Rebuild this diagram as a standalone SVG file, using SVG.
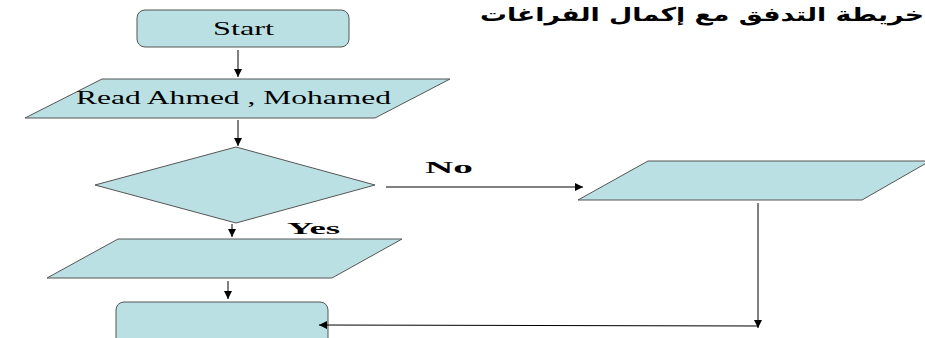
<svg xmlns="http://www.w3.org/2000/svg" width="925" height="338" viewBox="0 0 925 338">
<style>
.shape{fill:#BBE0E3;stroke:#555;stroke-width:1}
.lbl{font-family:"Liberation Serif",serif;font-size:18px;fill:#000}
.bold{font-family:"Liberation Serif",serif;font-size:17px;font-weight:bold;fill:#000}
.conn{stroke:#000;stroke-width:1;fill:none}
.title{font-family:"DejaVu Sans",sans-serif;font-size:19px;font-weight:bold;fill:#000}
</style>
<defs>
<marker id="ah" markerWidth="8" markerHeight="8" refX="8" refY="4" orient="auto" markerUnits="userSpaceOnUse">
<path d="M0,0 L8,4 L0,8 z" fill="#000"/>
</marker>
</defs>
<rect width="925" height="338" fill="#fff"/>
<text class="title" x="480" y="21" textLength="444" lengthAdjust="spacingAndGlyphs">خريطة التدفق مع إكمال الفراغات</text>
<g id="start">
<rect class="shape" x="137" y="10" width="212" height="37" rx="8"/>
<text class="lbl" x="213" y="35" textLength="61" lengthAdjust="spacingAndGlyphs">Start</text>
</g>
<g id="read">
<polygon class="shape" points="102,79 450,79 375,118 25,118"/>
<text class="lbl" x="76" y="104" textLength="315" lengthAdjust="spacingAndGlyphs">Read Ahmed , Mohamed</text>
</g>
<g id="decision">
<polygon class="shape" points="236,147 375,185 236,223 95,185"/>
</g>
<g id="output-yes">
<polygon class="shape" points="118,239 402,239 332,278 47,278"/>
</g>
<g id="output-no">
<polygon class="shape" points="648,161 930,161 862,200 578,200"/>
</g>
<g id="end">
<rect class="shape" x="116" y="302" width="212" height="50" rx="8"/>
</g>
<g id="connectors">
<line class="conn" x1="238" y1="50" x2="238" y2="77" marker-end="url(#ah)"/>
<line class="conn" x1="238" y1="120" x2="238" y2="146" marker-end="url(#ah)"/>
<line class="conn" x1="386" y1="187" x2="583" y2="187" marker-end="url(#ah)"/>
<text class="bold" x="425" y="173" textLength="48" lengthAdjust="spacingAndGlyphs">No</text>
<line class="conn" x1="232" y1="224" x2="232" y2="237" marker-end="url(#ah)"/>
<text class="bold" x="287" y="234" textLength="53" lengthAdjust="spacingAndGlyphs">Yes</text>
<line class="conn" x1="228" y1="281" x2="228" y2="299" marker-end="url(#ah)"/>
<line class="conn" x1="758" y1="203" x2="758" y2="328" marker-end="url(#ah)"/>
<line class="conn" x1="758" y1="326" x2="319" y2="325" marker-end="url(#ah)"/>
</g>
</svg>
